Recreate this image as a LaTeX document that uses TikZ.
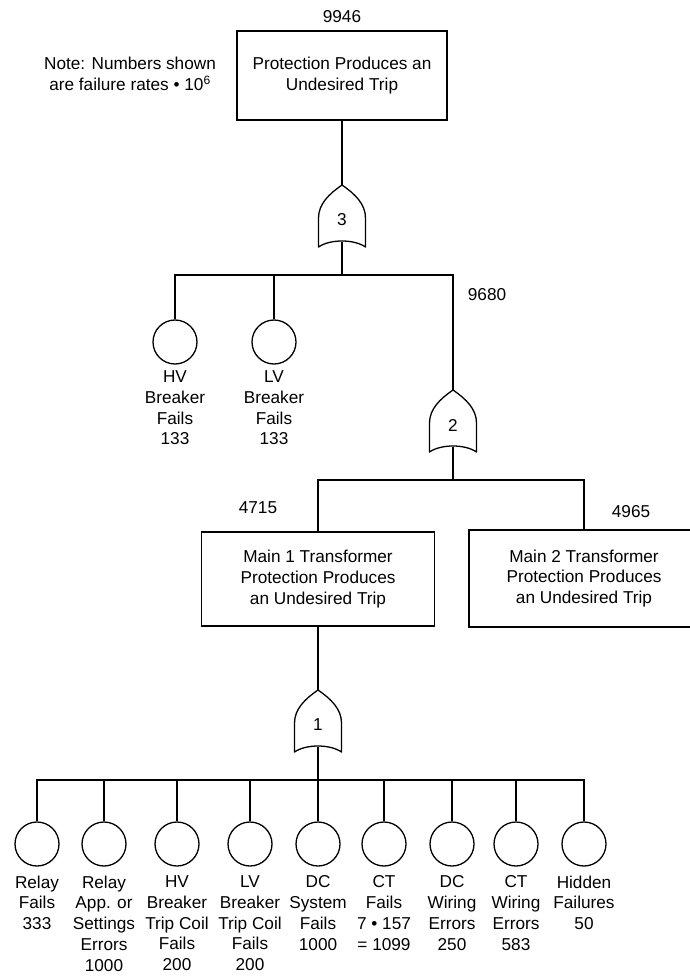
\documentclass[tikz,border=0pt]{standalone}
\usepackage{fontspec}
\setmainfont{Liberation Sans}
\begin{document}
\begin{tikzpicture}[x=1pt,y=-1pt,line width=1.3pt,
  txt/.style={font=\fontsize{17.2}{20.8}\selectfont,align=center,inner sep=0pt},
  box/.style={draw,rectangle,txt},
  event/.style={draw,circle,minimum size=44pt,inner sep=0pt},
  lbl/.style={txt,anchor=north},
  orgate/.pic={
    \draw[line join=round] (0,0) .. controls (-13,9) and (-23.5,19) .. (-23.5,33)
      -- (-23.5,62) .. controls (-12,54) and (12,54) .. (23.5,62)
      -- (23.5,33) .. controls (23.5,19) and (13,9) .. (0,0) -- cycle;
    \coordinate (-top) at (0,0);
    \coordinate (-bot) at (0,56.5);
    \node[txt] (-lbl) at (0,35) {\tikzpictext};
  }]
\useasboundingbox (0,0) rectangle (689,976);

% top event
\node[box,minimum width=210pt,minimum height=89pt] (top) at (342,75.5)
  {Protection Produces an\\Undesired Trip};
\node[txt] (n9946) at (342,17) {9946};
\node[txt] (note) at (130,74) {Note: Numbers shown\\are failure rates \textbullet\ 10\textsuperscript{6}};

% gate 3
\pic (g3) [pic text=3] at (342,185) {orgate};
\coordinate (j3) at (342,275);
\draw (top.south) -- (g3-top);
\draw (g3-bot) -- (j3);

\node[event] (hvb) at (175,342) {};
\node[event] (lvb) at (274,342) {};
\node[lbl] (hvbl) at (175,370) {HV\\Breaker\\Fails\\133};
\node[lbl] (lvbl) at (274,370) {LV\\Breaker\\Fails\\133};

% gate 2
\pic (g2) [pic text=2] at (453,390) {orgate};
\node[txt] (n9680) at (487,295) {9680};
\draw (j3) -| (hvb.north);
\draw (j3) -| (lvb.north);
\draw (j3) -| (g2-top);

\coordinate (j2) at (453,480);
\draw (g2-bot) -- (j2);

\node[box,minimum width=233pt,minimum height=94pt] (m1) at (318,579)
  {Main 1 Transformer\\Protection Produces\\an Undesired Trip};
\node[box,minimum width=230pt,minimum height=97pt] (m2) at (584,578.5)
  {Main 2 Transformer\\Protection Produces\\an Undesired Trip};
\node[txt] (n4715) at (258,508) {4715};
\node[txt] (n4965) at (631,512) {4965};
\draw (j2) -| (m1.north);
\draw (j2) -| (m2.north);

% gate 1
\pic (g1) [pic text=1] at (318,690) {orgate};
\draw (m1.south) -- (g1-top);
\coordinate (j1) at (318,780);
\draw (g1-bot) -- (j1);

\foreach \i/\x/\t in {
  1/37/{Relay\\Fails\\333},
  2/104/{Relay\\App. or\\Settings\\Errors\\1000},
  3/177/{HV\\Breaker\\Trip Coil\\Fails\\200},
  4/250/{LV\\Breaker\\Trip Coil\\Fails\\200},
  5/318/{DC\\System\\Fails\\1000},
  6/384/{CT\\Fails\\7 \textbullet\ 157\\= 1099},
  7/452/{DC\\Wiring\\Errors\\250},
  8/516/{CT\\Wiring\\Errors\\583},
  9/584/{Hidden\\Failures\\50}}{
  \node[event] (e\i) at (\x,844) {};
  \node[lbl] (e\i l) at (\x,875) {\t};
  \draw (j1) -| (e\i.north);
}
\end{tikzpicture}
\end{document}
